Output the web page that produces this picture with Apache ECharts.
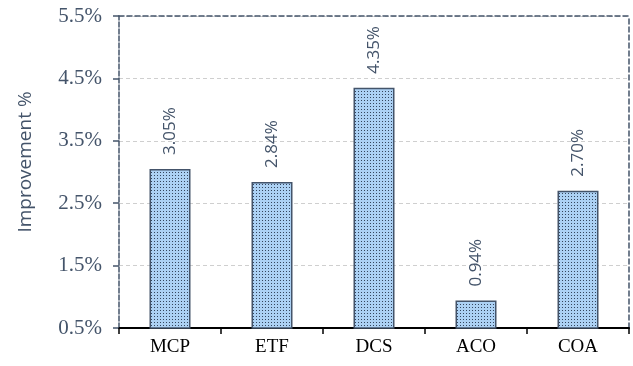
<!DOCTYPE html>
<html>
<head>
<meta charset="utf-8">
<script src="https://cdn.jsdelivr.net/npm/echarts@6/dist/echarts.min.js"></script>
<style>
  html, body { margin: 0; padding: 0; background: #fff; }
  #main { width: 633px; height: 366px; }
</style>
</head>
<body>
<div id="main"></div>
<script>
var categories = ["MCP", "ETF", "DCS", "ACO", "COA"];
var improvement = [3.05, 2.84, 4.35, 0.94, 2.70];

// dotted fill like the original bars
var tile = document.createElement("canvas");
tile.width = 3;
tile.height = 3;
var ctx = tile.getContext("2d");
ctx.fillStyle = "#acd1f4";
ctx.fillRect(0, 0, 3, 3);
ctx.fillStyle = "#34465e";
ctx.fillRect(1, 1, 1, 1);

var slate = "#44546a";
var serif = "'Liberation Serif', 'Times New Roman', serif";
var sans = "'Open Sans', 'Liberation Sans', sans-serif";
var chart = echarts.init(document.getElementById("main"));
chart.setOption({
  animation: false,
  grid: { left: 119, right: 4, top: 16, bottom: 38 },
  xAxis: [{
    type: "category",
    data: categories,
    axisLine: { lineStyle: { color: "#000", width: 2 } },
    axisTick: { show: true, length: 6, lineStyle: { color: "#000", width: 1.5 } },
    axisLabel: { color: "#000", fontFamily: serif, fontSize: 19, margin: 10 }
  }, {
    type: "category",
    position: "top",
    data: categories,
    axisLine: { lineStyle: { color: slate, width: 1.5, type: [5, 3] } },
    axisTick: { show: false },
    axisLabel: { show: false }
  }],
  yAxis: [{
    type: "value",
    min: 0.5,
    max: 5.5,
    interval: 1,
    name: "Improvement %",
    nameLocation: "middle",
    nameGap: 84,
    nameTextStyle: { color: slate, fontFamily: sans, fontSize: 19, padding: [0, 0, 0, 20] },
    axisLine: { show: true, lineStyle: { color: slate, width: 1.5, type: [5, 2] } },
    axisTick: { show: true, length: 6, lineStyle: { color: slate, width: 1.5 } },
    axisLabel: {
      color: slate, fontFamily: serif, fontSize: 21, margin: 17,
      formatter: function (v) { return v.toFixed(1) + "%"; }
    },
    splitLine: { lineStyle: { color: "#cfcfcf", type: [4, 3] } }
  }, {
    type: "value",
    position: "right",
    min: 0.5,
    max: 5.5,
    interval: 1,
    axisLine: { show: true, lineStyle: { color: slate, width: 1.5, type: [5, 3] } },
    axisTick: { show: false },
    axisLabel: { show: false },
    splitLine: { show: false }
  }],
  series: [{
    type: "bar",
    data: improvement,
    barWidth: 41,
    itemStyle: {
      color: { image: tile, repeat: "repeat" },
      borderColor: slate,
      borderWidth: 1.5
    },
    label: {
      show: true,
      position: "top",
      rotate: 90,
      align: "left",
      verticalAlign: "middle",
      distance: 14,
      color: slate,
      fontFamily: sans,
      fontSize: 17,
      formatter: function (p) { return p.value.toFixed(2) + "%"; }
    }
  }]
});
</script>
</body>
</html>
